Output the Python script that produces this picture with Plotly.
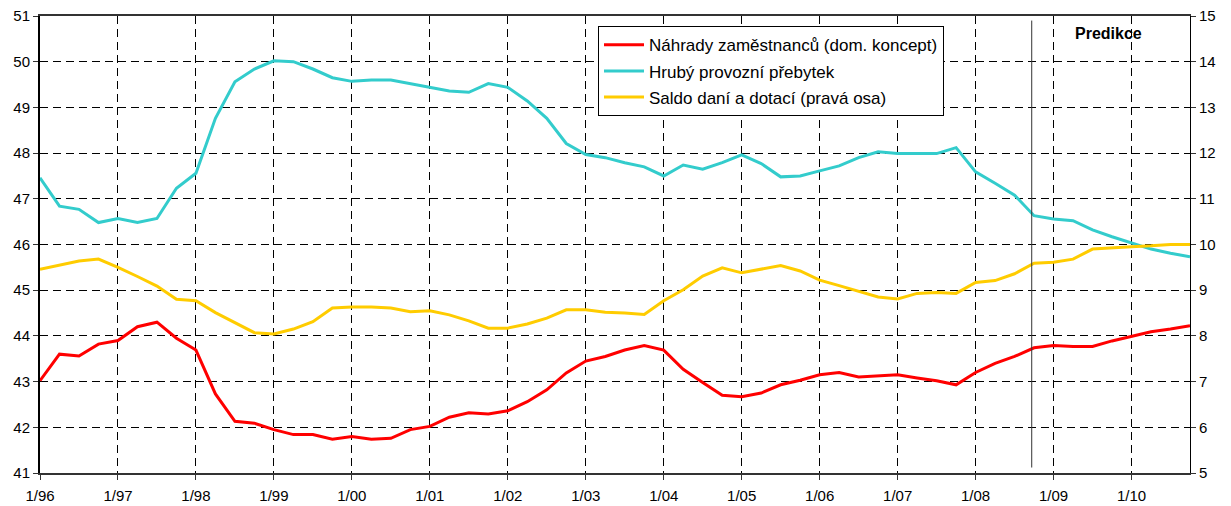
import plotly.graph_objects as go

years = ["96", "97", "98", "99", "00", "01", "02", "03", "04", "05", "06", "07", "08", "09", "10"]
quarters = list(range(60))
tick_pos = list(range(0, 60, 4))
tick_labels = ["1/" + y for y in years]

nahrady = [43.02, 43.60, 43.56, 43.82, 43.90, 44.20, 44.30, 43.95, 43.69, 42.73, 42.13, 42.09,
           41.95, 41.84, 41.84, 41.74, 41.80, 41.74, 41.76, 41.95, 42.02, 42.22, 42.32, 42.29,
           42.36, 42.56, 42.82, 43.19, 43.45, 43.55, 43.69, 43.79, 43.69, 43.27, 42.98, 42.70,
           42.67, 42.75, 42.93, 43.03, 43.15, 43.20, 43.10, 43.13, 43.15, 43.08, 43.02, 42.93,
           43.20, 43.40, 43.55, 43.74, 43.79, 43.77, 43.77, 43.89, 43.99, 44.09, 44.15, 44.22]

hruby = [47.46, 46.84, 46.77, 46.48, 46.57, 46.48, 46.57, 47.23, 47.56, 48.76, 49.56, 49.84,
         50.02, 50.00, 49.84, 49.65, 49.57, 49.60, 49.60, 49.52, 49.44, 49.36, 49.33, 49.52,
         49.44, 49.14, 48.76, 48.21, 47.97, 47.90, 47.79, 47.70, 47.50, 47.74, 47.65, 47.79,
         47.96, 47.77, 47.48, 47.50, 47.61, 47.72, 47.90, 48.03, 47.99, 47.99, 47.99, 48.12,
         47.59, 47.34, 47.08, 46.63, 46.56, 46.52, 46.32, 46.17, 46.03, 45.90, 45.81, 45.73]

saldo = [9.46, 9.55, 9.64, 9.68, 9.50, 9.30, 9.09, 8.80, 8.77, 8.51, 8.29, 8.07,
         8.04, 8.15, 8.31, 8.61, 8.63, 8.63, 8.61, 8.53, 8.55, 8.46, 8.33, 8.17,
         8.17, 8.26, 8.39, 8.57, 8.57, 8.52, 8.50, 8.47, 8.77, 9.01, 9.31, 9.49,
         9.38, 9.46, 9.54, 9.42, 9.22, 9.10, 8.98, 8.85, 8.81, 8.93, 8.95, 8.93,
         9.17, 9.21, 9.36, 9.59, 9.61, 9.68, 9.90, 9.93, 9.95, 9.97, 10.00, 10.00]

names = ["Náhrady zaměstnanců (dom. koncept)", "Hrubý provozní přebytek",
         "Saldo daní a dotací (pravá osa)"]
colors = ["#FF0000", "#33CCCC", "#FFCC00"]

FONT = "Liberation Sans, Arial, sans-serif"

fig = go.Figure()
fig.add_trace(go.Scatter(x=quarters, y=nahrady, name=names[0], mode="lines",
                         line=dict(color=colors[0], width=3), legendgroup="a"))
fig.add_trace(go.Scatter(x=quarters, y=hruby, name=names[1], mode="lines",
                         line=dict(color=colors[1], width=3), legendgroup="b"))
fig.add_trace(go.Scatter(x=quarters, y=saldo, name=names[2], mode="lines", yaxis="y2",
                         line=dict(color=colors[2], width=3), legendgroup="c"))

PL, PR, PT, PB = 40, 1190, 15.7, 473.3
W, H = 1231, 506

fig.update_layout(
    width=W, height=H,
    margin=dict(l=PL, r=W - PR, t=PT, b=H - PB, autoexpand=False),
    paper_bgcolor="white", plot_bgcolor="white",
    font=dict(family=FONT, size=15, color="black"),
    xaxis=dict(range=[0, 59], tickvals=tick_pos, ticktext=tick_labels, automargin=False,
               showgrid=True, gridcolor="black", griddash="8px,5px", gridwidth=1,
               showline=True, linecolor="#333333", linewidth=2, mirror=True,
               ticks="outside", ticklen=5, tickcolor="#333333", zeroline=False,
               tickfont=dict(size=15), ticklabelstandoff=3),
    yaxis=dict(range=[41, 51], dtick=1, showgrid=True, gridcolor="black", automargin=False,
               griddash="8px,5px", gridwidth=1, showline=True, linecolor="black",
               linewidth=2, ticks="outside", ticklen=5, tickcolor="#333333",
               zeroline=False, tickfont=dict(size=15)),
    yaxis2=dict(range=[5, 15], dtick=1, overlaying="y", side="right", showgrid=False,
                automargin=False,
                showline=True, linecolor="black", linewidth=1, ticks="outside",
                ticklen=5, tickcolor="#333333", zeroline=False, tickfont=dict(size=15)),
    legend=dict(x=(598 - PL) / (PR - PL), y=(PB - 26) / (PB - PT), xanchor="left",
                yanchor="top", bgcolor="white", bordercolor="black", borderwidth=1,
                font=dict(size=17), traceorder="grouped", tracegroupgap=1,
                itemwidth=40),
    showlegend=True,
)

fig.add_shape(type="line", xref="x", yref="paper", x0=50.88, x1=50.88, y0=0.012, y1=0.99,
              line=dict(color="#333333", width=1))
fig.add_annotation(text="<b>Predikce</b>", xref="paper", yref="paper",
                   x=(1108 - PL) / (PR - PL), y=(PB - 33) / (PB - PT), showarrow=False,
                   font=dict(size=16, color="black"), xanchor="center", yanchor="middle")

fig.write_html("out.html", config={"displayModeBar": False},
               post_script="document.body.style.margin='0';")
